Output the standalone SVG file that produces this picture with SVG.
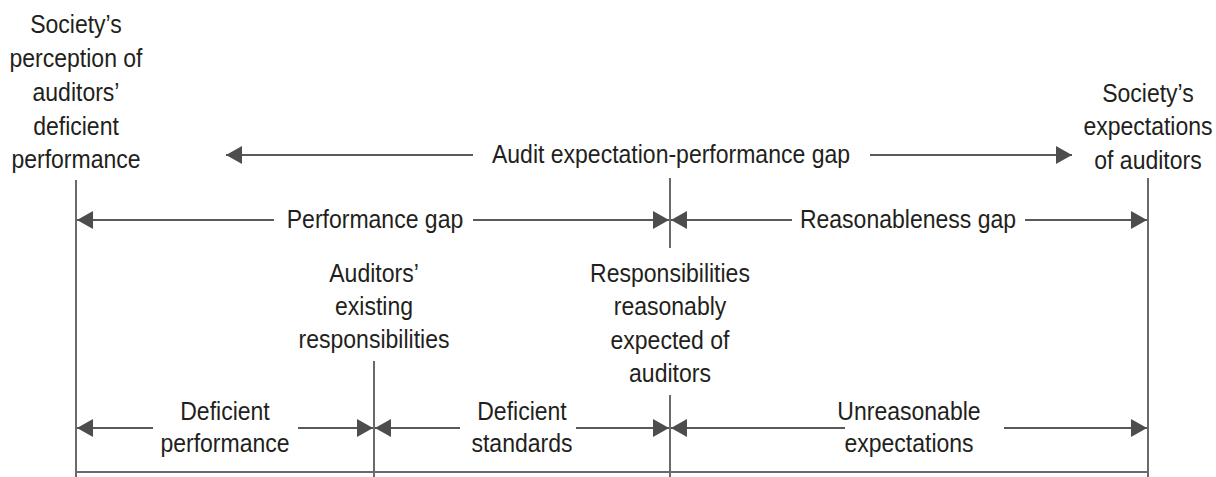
<svg xmlns="http://www.w3.org/2000/svg" width="1216" height="477" viewBox="0 0 1216 477">
<style>
text{font-family:"Liberation Sans",Arial,sans-serif;font-size:26px;fill:#231f20;text-anchor:middle;transform-box:fill-box;transform-origin:center;transform:scaleX(0.885)}
.a{stroke:#5a5a5a;stroke-width:2;fill:none;marker-end:url(#ah)}
.v{stroke:#6a6a6a;stroke-width:2;fill:none}
</style>
<defs>
<marker id="ah" markerUnits="userSpaceOnUse" markerWidth="16" markerHeight="18" refX="16" refY="9" orient="auto" viewBox="0 0 16 18">
<path d="M0,0 L16,9 L0,18 Z" fill="#4d4d4d"/>
</marker>
</defs>
<g id="connectors">
<line class="v" x1="76" y1="180" x2="76" y2="477"/>
<line class="v" x1="1148" y1="178" x2="1148" y2="477"/>
<line class="v" x1="670" y1="178" x2="670" y2="248"/>
<line class="v" x1="670" y1="395" x2="670" y2="477"/>
<line class="v" x1="374" y1="361" x2="374" y2="477"/>
<line class="v" x1="76" y1="472" x2="1148" y2="472"/>
<line class="a" x1="473" y1="155" x2="226" y2="155"/>
<line class="a" x1="870" y1="155" x2="1072" y2="155"/>
<line class="a" x1="274" y1="220" x2="77" y2="220"/>
<line class="a" x1="473" y1="220" x2="669" y2="220"/>
<line class="a" x1="792" y1="220" x2="671" y2="220"/>
<line class="a" x1="1025" y1="220" x2="1147" y2="220"/>
<line class="a" x1="153" y1="428" x2="77" y2="428"/>
<line class="a" x1="298" y1="428" x2="373" y2="428"/>
<line class="a" x1="460" y1="428" x2="375" y2="428"/>
<line class="a" x1="576" y1="428" x2="669" y2="428"/>
<line class="a" x1="845" y1="428" x2="671" y2="428"/>
<line class="a" x1="1004" y1="428" x2="1147" y2="428"/>
</g>
<g id="society-perception">
<text x="76" y="33">Society’s</text>
<text x="76" y="67">perception of</text>
<text x="76" y="101">auditors’</text>
<text x="76" y="135">deficient</text>
<text x="76" y="168">performance</text>
</g>
<g id="society-expectations">
<text x="1148" y="102">Society’s</text>
<text x="1148" y="135">expectations</text>
<text x="1148" y="169">of auditors</text>
</g>
<g id="audit-gap"><text x="671" y="163">Audit expectation-performance gap</text></g>
<g id="performance-gap"><text x="375" y="228">Performance gap</text></g>
<g id="reasonableness-gap"><text x="908" y="228">Reasonableness gap</text></g>
<g id="existing-responsibilities">
<text x="374" y="282">Auditors’</text>
<text x="374" y="315">existing</text>
<text x="374" y="348">responsibilities</text>
</g>
<g id="reasonable-responsibilities">
<text x="670" y="282">Responsibilities</text>
<text x="670" y="315">reasonably</text>
<text x="670" y="349">expected of</text>
<text x="670" y="382">auditors</text>
</g>
<g id="deficient-performance">
<text x="225" y="420">Deficient</text>
<text x="225" y="452">performance</text>
</g>
<g id="deficient-standards">
<text x="522" y="420">Deficient</text>
<text x="522" y="452">standards</text>
</g>
<g id="unreasonable-expectations">
<text x="909" y="420">Unreasonable</text>
<text x="909" y="452">expectations</text>
</g>
</svg>
